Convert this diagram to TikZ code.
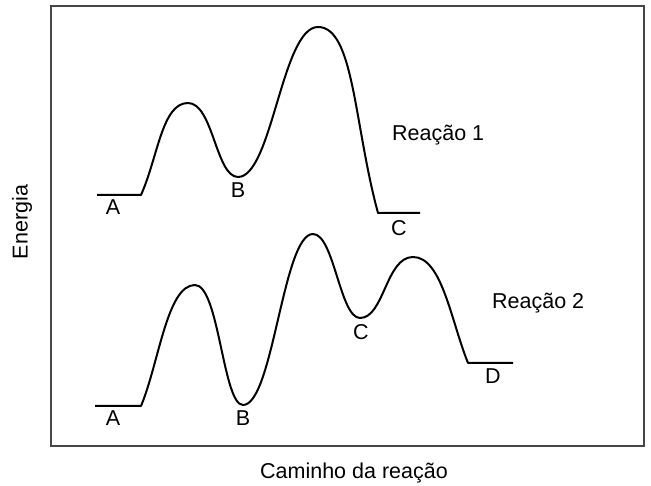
\documentclass[tikz,border=0pt]{standalone}
\usepackage{fontspec}
\setmainfont{Liberation Sans}
\usepackage{xcolor}
\usetikzlibrary{positioning}
\definecolor{frame}{RGB}{70,70,70}
\tikzset{
  profile/.style={draw=black, line width=2pt, line join=round},
  lbl/.style={font=\fontsize{21.5}{25}\selectfont, inner sep=0pt},
}

\begin{document}
\begin{tikzpicture}[x=1pt, y=1pt,
  box/.style={draw=frame, line width=2.2pt}
]
  \useasboundingbox (0,0) rectangle (651,486);
  \draw[box] (51,40) rectangle (644,480);
  % axis titles
  \node[lbl, rotate=90] (yax) at (22,264) {Energia};
  \node[lbl] (xax) at (354,13) {Caminho da reação};
  % reaction 1
  \draw[profile] (97,291) -- (141,291)
    .. controls +(17,38) and +(-26,0) .. (188,383)
    .. controls +(25,0) and +(-22,0) .. (238,309)
    .. controls +(34,0) and +(-36,0) .. (318,459)
    .. controls +(36,0) and +(-24,88) .. (378,273)
    -- (420,273);
  \node[lbl] (a1) at (113,279) {A};
  \node[lbl] (b1) at (238,296) {B};
  \node[lbl] (c1) at (399,258) {C};
  \node[lbl, anchor=west] (r1) at (392,351) {Reação 1};
  % reaction 2
  \draw[profile] (95,80) -- (141,80)
    .. controls +(18,43) and +(-28,0) .. (195,201)
    .. controls +(24,0) and +(-20,0) .. (243,81)
    .. controls +(30,0) and +(-30,0) .. (313,252)
    .. controls +(21,0) and +(-20,0) .. (360,168)
    .. controls +(24,0) and +(-27,0) .. (413,229)
    .. controls +(29,0) and +(-17,42) .. (468,123)
    -- (513,123);
  \node[lbl] (a2) at (113,68) {A};
  \node[lbl] (b2) at (243,68) {B};
  \node[lbl] (c2) at (361,154) {C};
  \node[lbl] (d2) at (493,110) {D};
  \node[lbl, anchor=west] (r2) at (492,183) {Reação 2};
\end{tikzpicture}
\end{document}
